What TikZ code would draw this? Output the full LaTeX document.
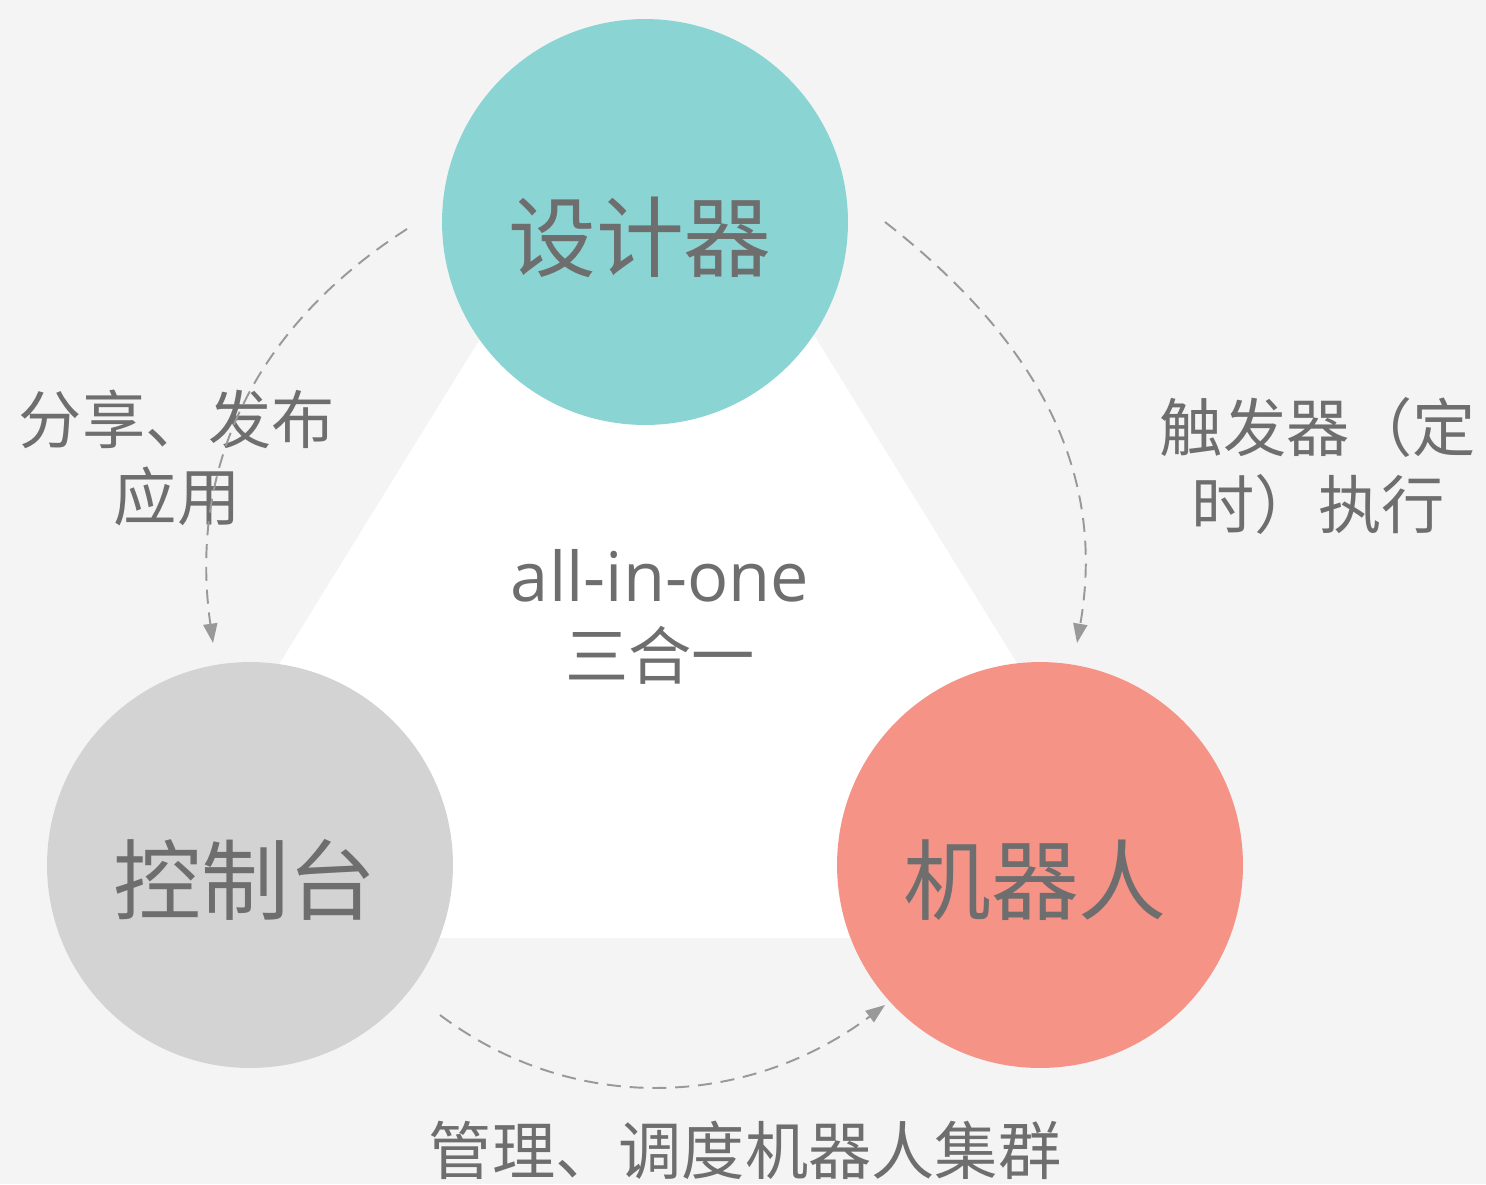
\documentclass[tikz,border=0pt]{standalone}
\usepackage{fontspec}
\setmainfont{Noto Sans CJK SC}
\newfontfamily\latinfont{Open Sans}
\usetikzlibrary{arrows.meta}
\definecolor{bggray}{HTML}{F4F4F4}
\definecolor{txtgray}{HTML}{6E6E6E}
\definecolor{linegray}{HTML}{999999}
\definecolor{designteal}{HTML}{8AD5D3}
\definecolor{consolegray}{HTML}{D3D3D3}
\definecolor{robotred}{HTML}{F59386}
\tikzset{
  bubbletext/.style={text=txtgray, font=\fontsize{50}{50}\selectfont,
    xshift=-0.1cm, yshift=-0.3cm},
  bubble/.style n args={2}{circle, fill=#1, draw=none, inner sep=0pt,
    minimum size=8.12cm, label={[bubbletext]center:#2}},
  flowarrow/.style={draw=linegray, line width=1.1pt, dash pattern=on 8pt off 5pt,
    -{Triangle[length=11pt,width=8pt]}},
  caption/.style={text=txtgray, align=center, font=\fontsize{36}{44}\selectfont}
}

\begin{document}
\begin{tikzpicture}[x=0.02cm, y=-0.02cm]
      \fill[bggray] (0,0) rectangle (1486,1184);
      \useasboundingbox (0,0) rectangle (1486,1184);
      \fill[white] (648,67) -- (1187,938) -- (110,938) -- cycle;
      \node[bubble={designteal}{设计器}] (des) at (645,222) {};
      \node[bubble={consolegray}{控制台}] (con) at (250,865) {};
      \node[bubble={robotred}{机器人}] (bot) at (1040,865) {};
      \node[caption] (allone) at (660,617) {{\latinfont\fontsize{39}{44}\selectfont all-in-one}\\三合一};
      \node[caption] (share) at (177,458) {分享、发布\\应用};
      \node[caption] (trigger) at (1318,466) {触发器（定\\时）执行};
      \node[caption] (manage) at (745,1150) {管理、调度机器人集群};
      \coordinate (sharefrom) at (407,229);
      \coordinate (shareto) at (213,643);
      \coordinate (triggerfrom) at (885,222);
      \coordinate (triggerto) at (1077,643);
      \coordinate (managefrom) at (440,1015);
      \coordinate (manageto) at (885,1005);
      \draw[flowarrow] (sharefrom) .. controls (256,326) and (188,465) .. (shareto);
      \draw[flowarrow] (triggerfrom) .. controls (1030,335) and (1108,465) .. (triggerto);
      \draw[flowarrow] (managefrom) .. controls (576,1117) and (749,1107) .. (manageto);
    \end{tikzpicture}
\end{document}
